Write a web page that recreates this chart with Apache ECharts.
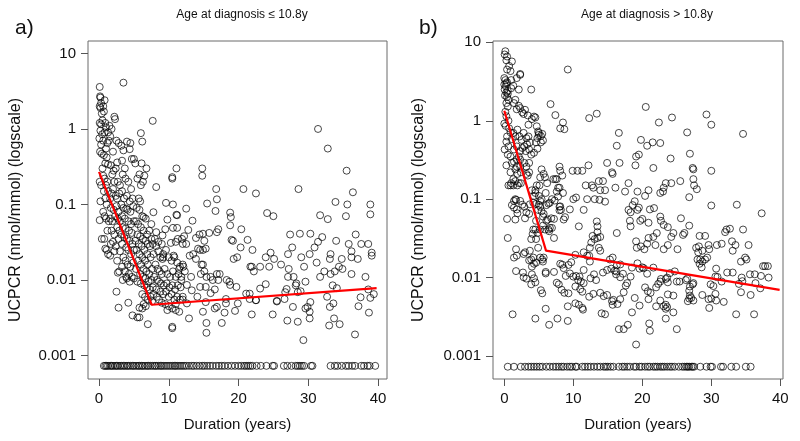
<!DOCTYPE html>
<html>
<head>
<meta charset="utf-8">
<script src="https://cdn.jsdelivr.net/npm/echarts@6/dist/echarts.min.js"></script>
<style>
html,body{margin:0;padding:0;background:#fff;}
#chart{width:800px;height:441px;}
</style>
</head>
<body>
<div id="chart"></div>
<script>
// ---------- DATA ----------
var panelLabels = ['a)', 'b)'];
var panelTitles = ['Age at diagnosis \u2264 10.8y', 'Age at diagnosis > 10.8y'];
var xTicks = [0, 10, 20, 30, 40];
var yTicks = [0.001, 0.01, 0.1, 1, 10];
var xTitle = 'Duration (years)';
var yTitle = 'UCPCR (nmol/mmol) (logscale)';
var zeroValue = 0.00073; // undetectable UCPCR plotted at the floor

// Panel a: measured UCPCR [duration, value]
var pointsA = [
[0.1,3.6],[0.15,2.7],[0.2,2.6],[0.1,2.0],[0.3,2.2],[0.2,1.9],[0.4,1.6],[0.1,1.2],[0.3,1.15],[0.2,0.95],[0.05,0.75],[0.3,0.62],[0.15,0.5],[0.4,0.47],[0.1,0.2],[0.3,0.18],[0.2,0.11],[0.1,0.062],[0.4,0.035],[0.5,1.3],[0.45,0.85],[0.5,0.3],
[0.6,2.0],[0.8,2.4],[0.7,1.7],[0.9,1.2],[1.0,1.05],[0.8,0.9],[0.6,0.7],[1.2,0.65],[1.0,0.55],[0.7,0.45],[1.1,0.42],[0.9,0.35],[1.3,0.34],[0.6,0.24],[0.8,0.22],[1.0,0.18],[1.2,0.2],[0.7,0.15],[0.9,0.12],[1.1,0.1],[1.3,0.15],[0.6,0.08],[0.8,0.07],[1.0,0.065],[1.4,0.06],[1.2,0.045],[0.9,0.026],[1.1,0.025],[1.3,0.022],[0.75,0.035],[1.5,1.1],[1.4,0.7],[1.3,0.9],
[1.6,0.8],[1.8,1.0],[2.2,1.45],[2.3,1.35],[2.0,0.5],[2.5,0.7],[2.8,0.65],[1.7,0.33],[2.1,0.28],[2.4,0.3],[2.6,0.36],[1.9,0.25],[2.2,0.2],[2.7,0.2],[3.0,0.18],[1.6,0.12],[1.8,0.14],[2.0,0.16],[2.4,0.13],[2.6,0.12],[2.9,0.14],[1.7,0.09],[2.1,0.085],[2.5,0.095],[2.8,0.08],[1.6,0.065],[1.9,0.06],[2.3,0.07],[2.7,0.065],[3.0,0.06],[1.8,0.045],[2.2,0.04],[2.6,0.05],[2.9,0.045],[1.7,0.03],[2.0,0.032],[2.4,0.028],[2.8,0.035],[1.6,0.021],[2.2,0.024],[2.6,0.018],[2.7,0.0125],[2.9,0.013],[2.5,0.007],[2.8,0.0043],[3.0,0.024],
[3.5,4.1],[3.2,0.6],[3.5,0.52],[3.3,0.38],[3.7,0.3],[4.0,0.68],[4.5,0.65],[4.4,0.54],[4.7,0.4],[5.0,0.4],[3.4,0.25],[3.8,0.22],[4.2,0.2],[4.6,0.16],[3.3,0.15],[3.6,0.12],[4.0,0.13],[4.4,0.11],[4.8,0.12],[3.2,0.1],[3.5,0.09],[3.9,0.088],[4.1,0.085],[4.5,0.08],[4.9,0.095],[3.3,0.07],[3.7,0.065],[4.2,0.06],[4.6,0.055],[5.0,0.06],[3.4,0.05],[3.8,0.048],[4.3,0.045],[4.7,0.042],[3.2,0.04],[3.6,0.037],[4.0,0.035],[4.4,0.033],[4.8,0.03],[3.3,0.03],[3.9,0.027],[4.2,0.025],[4.6,0.022],[5.0,0.025],[3.5,0.02],[3.8,0.018],[4.1,0.016],[4.5,0.015],[4.9,0.017],[3.3,0.015],[3.7,0.013],[4.3,0.012],[4.7,0.011],[3.4,0.01],[4.0,0.0105],[4.4,0.0095],[5.0,0.0105],[4.2,0.005],[4.8,0.0034],[5.5,0.0032],[3.9,0.011],
[5.2,0.35],[5.5,0.22],[5.8,0.25],[6.0,0.88],[6.2,0.68],[6.1,0.35],[6.3,0.2],[6.0,0.18],[5.7,0.12],[5.9,0.11],[6.5,0.24],[6.8,0.3],[5.4,0.09],[5.8,0.085],[6.2,0.07],[6.4,0.068],[6.7,0.065],[5.3,0.06],[5.6,0.055],[6.0,0.05],[6.4,0.045],[6.9,0.04],[7.2,0.045],[5.5,0.04],[5.9,0.038],[6.3,0.035],[6.7,0.033],[7.0,0.03],[7.5,0.035],[5.2,0.033],[5.7,0.03],[6.1,0.028],[6.5,0.025],[6.9,0.022],[7.3,0.028],[7.7,0.03],[5.4,0.025],[5.8,0.022],[6.2,0.02],[6.6,0.018],[7.0,0.016],[7.4,0.02],[7.8,0.022],[5.6,0.018],[6.0,0.016],[6.4,0.014],[6.8,0.013],[7.2,0.012],[7.6,0.014],[5.3,0.014],[5.9,0.012],[6.3,0.011],[6.7,0.0105],[7.1,0.0095],[7.5,0.01],[7.9,0.011],[5.5,0.0095],[6.0,0.009],[6.5,0.0085],[6.9,0.008],[7.3,0.0075],[7.7,0.008],[6.2,0.0065],[6.6,0.006],[7.0,0.0055],[7.4,0.006],[7.8,0.0065],[5.8,0.0043],[6.2,0.0042],[6.7,0.0045],[7.0,0.0026],[5.8,0.0032],[6.4,0.0048],[7.6,0.0052],
[7.7,1.28],[8.2,0.17],[7.8,0.079],[7.5,0.055],[8.2,0.043],[9.1,0.039],[9.5,0.047],[9.6,0.105],[10.6,0.10],[10.5,0.23],[10.5,0.22],[11.1,0.30],[9.8,0.063],[11.1,0.073],[11.2,0.072],[10.6,0.049],[11.2,0.049],[11.9,0.035],[12.2,0.038],[12.5,0.088],[12.8,0.046],[13.4,0.061],[13.9,0.036],[14.4,0.040],[14.9,0.041],[15.1,0.033],[15.8,0.042],[14.8,0.30],[14.8,0.24],[15.5,0.103],[16.8,0.16],[16.9,0.117],[16.7,0.082],[16.9,0.043],[17.1,0.047],[18.8,0.078],[18.9,0.068],[18.8,0.053],[19.0,0.034],[20.4,0.047],[20.7,0.16],[21.3,0.034],[22.0,0.025],[22.5,0.14],[24.1,0.077],[25.0,0.07],
[8.2,0.028],[8.5,0.024],[8.8,0.02],[9.2,0.022],[9.6,0.025],[10.0,0.02],[10.4,0.018],[10.8,0.02],[11.2,0.017],[11.6,0.015],[8.1,0.016],[8.4,0.014],[8.7,0.013],[9.0,0.012],[9.4,0.014],[9.8,0.012],[10.2,0.011],[10.6,0.013],[11.0,0.011],[11.4,0.012],[11.8,0.01],[8.3,0.01],[8.6,0.0095],[8.9,0.009],[9.3,0.0085],[9.7,0.009],[10.1,0.008],[10.5,0.0085],[10.9,0.0075],[11.3,0.0085],[11.7,0.008],[8.2,0.0075],[8.8,0.007],[9.2,0.0065],[9.6,0.007],[10.0,0.006],[10.4,0.0065],[10.8,0.0055],[11.2,0.006],[11.6,0.0055],[12.0,0.006],[8.6,0.0055],[9.0,0.005],[9.5,0.0048],[10.0,0.0045],[10.5,0.0042],[11.0,0.004],[11.5,0.0038],[8.3,0.006],[9.8,0.004],[10.5,0.0024],[10.5,0.0023],[12.0,0.0055],[11.0,0.0048],[9.1,0.019],[9.2,0.02],[10.7,0.021],[11.5,0.014],[12.1,0.015],[12.3,0.013],[8.0,0.035],[8.5,0.032],[9.0,0.03],[10.3,0.031],[11.0,0.032],[11.3,0.035],[12.0,0.03],[12.5,0.03],
[12.0,0.016],[11.8,0.011],[12.6,0.0086],[13.2,0.011],[13.3,0.0073],[14.1,0.006],[14.5,0.0081],[14.6,0.012],[14.7,0.016],[14.9,0.016],[15.1,0.013],[15.3,0.0081],[15.4,0.011],[16.0,0.011],[16.3,0.010],[16.9,0.012],[17.3,0.012],[16.6,0.0075],[16.0,0.0067],[15.3,0.0051],[14.9,0.0038],[15.4,0.0027],[15.4,0.0020],[12.9,0.0031],[12.6,0.0049],[16.6,0.0042],[17.6,0.0027],[18.0,0.0037],[18.2,0.0056],[18.2,0.0049],[18.3,0.010],[18.7,0.0095],[18.8,0.0086],[19.7,0.0081],[19.8,0.020],[19.3,0.019],[19.2,0.033],[20.3,0.027],[21.9,0.015],[19.9,0.0049],[19.5,0.0039],[21.9,0.0035],[22.5,0.0054],[16.9,0.0044],[17.1,0.010],[13.5,0.022],[14.2,0.026],[13.9,0.019],[14.5,0.025],[14.9,0.025],[15.3,0.026],[13.0,0.021],
[31.4,1.0],[32.8,0.55],[35.5,0.28],[28.6,0.16],[36.4,0.145],[33.9,0.108],[35.6,0.10],[38.9,0.10],[38.9,0.074],[31.7,0.072],[32.8,0.064],[35.4,0.07],
[27.4,0.040],[28.8,0.041],[30.3,0.041],[30.9,0.027],[31.4,0.032],[32.0,0.037],[33.2,0.022],[34.0,0.033],[35.8,0.030],[36.2,0.024],[36.8,0.040],[37.6,0.030],[38.6,0.030],[39.1,0.023],[39.1,0.021],[37.1,0.019],[36.2,0.020],[34.8,0.019],[33.1,0.019],[31.2,0.017],[31.7,0.011],[32.3,0.013],[33.2,0.012],[33.8,0.013],[34.4,0.015],[34.9,0.014],[36.2,0.012],[38.2,0.011],[27.1,0.022],[27.7,0.027],[29.0,0.020],[30.2,0.022],[29.4,0.015],[27.2,0.014],[27.1,0.011],[27.9,0.011],[28.3,0.009],[28.2,0.0085],[29.6,0.0095],[26.9,0.0076],[26.7,0.0069],[26.6,0.0056],[26.1,0.016],[25.1,0.019],[24.6,0.023],[23.9,0.020],[24.4,0.015],[23.1,0.015],[21.7,0.015],[22.2,0.013],[23.9,0.0088],[23.1,0.0077],[21.6,0.0066],[21.1,0.0066],[21.6,0.0056],[22.5,0.0054],[25.5,0.0053],[28.5,0.0069],[28.9,0.0071],[27.8,0.0044],[29.6,0.0042],[29.9,0.0044],[30.3,0.0051],[30.2,0.0038],[30.2,0.0031],[27.0,0.0029],[28.5,0.0028],[29.3,0.0016],[33.0,0.0025],[34.5,0.0026],[33.7,0.0031],[33.1,0.0044],[33.6,0.0049],[32.7,0.0060],[33.5,0.0085],[34.1,0.0078],[36.7,0.0019],[37.2,0.0045],[37.5,0.0059],[38.6,0.0075],[38.9,0.0058],[39.4,0.0065],[38.7,0.0037],[24.9,0.0035],[25.5,0.0052]
];
var zerosA = [0.7,0.9,1.1,1.3,1.6,1.8,2.0,2.3,2.5,2.7,3.0,3.2,3.5,3.7,4.0,4.2,4.5,4.8,5.0,5.3,5.6,5.8,6.1,6.3,6.6,6.9,7.1,7.4,7.7,8.0,8.2,8.5,8.8,9.0,9.3,9.6,9.9,10.2,10.5,10.8,11.0,11.3,11.6,11.9,12.2,12.5,12.9,13.3,13.6,14.0,14.4,14.8,15.1,15.5,15.9,16.3,16.8,17.2,17.6,18.0,18.5,19.0,19.5,20.0,20.4,20.8,21.1,21.4,21.7,22.0,22.6,23.2,24.0,24.9,25.1,26.5,27.0,27.6,28.2,28.5,28.8,29.1,29.4,30.4,30.6,33.2,33.8,34.2,34.8,35.4,35.8,36.3,36.7,37.6,38.0,38.5,38.8,39.6];
var fitA = [[0,0.27],[7.55,0.0047],[39.8,0.0078]];

// Panel b
var pointsB = [
[9.2,4.5],[6.7,1.63],[7.4,1.18],[8.5,0.95],[8.7,0.78],[8.1,0.8],[12.3,1.08],[13.4,1.23],[20.5,1.5],[24.3,1.1],[22.4,0.95],[29.3,1.2],[30.0,0.89],[34.6,0.68],[26.5,0.71],[16.6,0.7],[19.8,0.57],[20.7,0.48],[21.5,0.53],[22.6,0.52],[16.3,0.48],[26.9,0.38],[24.1,0.33],[19.5,0.37],[19.1,0.35],[19.0,0.27],[16.7,0.29],[14.9,0.29],[12.2,0.27],[9.9,0.23],[10.6,0.23],[11.3,0.23],[15.6,0.22],[15.7,0.21],[21.6,0.25],[27.3,0.25],[27.4,0.24],[30.0,0.23],[25.5,0.17],[27.4,0.18],[27.5,0.15],[27.9,0.134],[24.2,0.16],[23.4,0.16],[23.1,0.14],[22.6,0.12],[23.0,0.125],[26.8,0.106],[30.0,0.083],[33.7,0.085],[37.3,0.066],[21.1,0.074],[21.7,0.077],[20.4,0.11],[20.9,0.13],[19.3,0.125],[18.9,0.094],[18.6,0.084],[17.5,0.125],[18.0,0.16],[16.1,0.14],[13.9,0.13],[14.6,0.13],[14.3,0.17],[11.8,0.15],[12.0,0.10],[12.7,0.15],[12.9,0.14],[13.7,0.17],[14.6,0.093],[13.8,0.098],[13.1,0.1],[11.5,0.073],[10.8,0.045],[10.0,0.1],[10.4,0.105],[9.5,0.074],[8.8,0.059],[8.6,0.055],[8.5,0.12],[18.0,0.073],[18.3,0.068],[18.2,0.053],[18.3,0.045],[16.3,0.037],[19.3,0.073],[19.5,0.078],[19.7,0.053],[20.0,0.056],[20.9,0.05],[22.6,0.06],[22.7,0.053],[23.1,0.047],[23.7,0.044],[25.6,0.057],[26.8,0.046],[25.9,0.035],[26.1,0.037],[24.5,0.037],[24.2,0.033],[23.7,0.026],[22.1,0.037],[21.6,0.033],[20.9,0.032],[20.7,0.027],[19.1,0.029],[19.2,0.024],[19.8,0.025],[20.3,0.023],[21.9,0.026],[23.1,0.023],[25.1,0.023],[28.3,0.034],[29.1,0.034],[29.6,0.026],[28.2,0.025],[28.7,0.022],[29.7,0.023],[30.8,0.026],[31.5,0.027],[32.0,0.038],[32.2,0.041],[32.7,0.042],[33.0,0.029],[33.5,0.026],[33.1,0.022],[34.6,0.041],[35.4,0.026],[34.9,0.018],[35.1,0.017],[34.3,0.016],[35.6,0.011],[36.3,0.011],[37.2,0.0105],[37.5,0.014],[37.8,0.014],[38.2,0.014],[38.3,0.01],[37.1,0.0073],[36.4,0.0085],[34.4,0.01],[34.5,0.009],[34.0,0.0083],[34.3,0.0065],[35.7,0.006],[36.2,0.0034],[33.6,0.0034],[33.1,0.0116],[32.3,0.0116],[30.7,0.013],[30.6,0.0103],[30.9,0.0102],[31.5,0.0089],[29.9,0.0082],[30.3,0.0078],[29.6,0.0053],[30.0,0.0054],[30.6,0.0062],[30.7,0.0051],[29.7,0.0041],[31.8,0.0049],[28.7,0.006],[28.3,0.015],[28.4,0.017],[28.7,0.016],[29.1,0.017],[29.4,0.018],[28.0,0.017],[28.1,0.021],[27.8,0.024],[28.6,0.0135],[27.4,0.0085],[27.3,0.0082],[26.9,0.0077],[26.8,0.0068],[26.9,0.0059],[27.1,0.0055],[27.4,0.0051],[26.8,0.0054],[26.6,0.005],[26.5,0.0097],[26.3,0.0093],[25.4,0.0089],[25.0,0.0089],[24.7,0.012],[24.0,0.0114],[23.6,0.01],[23.4,0.0096],[23.7,0.0087],[22.7,0.0096],[22.6,0.0089],[22.3,0.0083],[22.0,0.0075],[24.5,0.0059],[23.7,0.0061],[22.6,0.0051],[23.1,0.0043],[22.0,0.0043],[23.4,0.0045],[23.6,0.0042],[23.4,0.004],[24.5,0.0036],[23.4,0.003],[25.0,0.0022],[21.0,0.0026],[21.1,0.0021],[19.1,0.0014],[16.6,0.0022],[17.3,0.0022],[17.9,0.0025],[18.5,0.0036],[19.6,0.0044],[18.9,0.0055],[20.8,0.0067],[21.2,0.0064],[20.9,0.0053],[20.4,0.0075],[20.7,0.0112],[21.6,0.0134],[20.0,0.0135],[20.2,0.0132],[19.3,0.0152],[19.6,0.013],[18.5,0.0134],[18.3,0.0103],[17.2,0.0112],[16.8,0.0101],[17.8,0.0085],[17.6,0.0079],[17.3,0.0065],[16.8,0.0053],[16.4,0.0046],[15.8,0.0052],[15.6,0.005],[15.7,0.0045],[14.6,0.0034],[14.1,0.0035],[14.9,0.006],[14.4,0.0058],[13.9,0.0064],[13.3,0.0093],[14.3,0.0116],[14.9,0.0125],[15.5,0.013],[16.0,0.0123],[16.3,0.0143],[16.8,0.0147],[15.3,0.017],[15.7,0.018],[16.2,0.012],[16.2,0.011],[12.0,0.019],[12.3,0.019],[11.5,0.021],[12.4,0.024],[12.6,0.028],[13.1,0.031],[13.5,0.032],[12.8,0.034],[13.7,0.024],[13.9,0.022],[13.5,0.038],[13.5,0.045],[13.9,0.033],[13.4,0.052],[12.4,0.016],[13.0,0.011],[12.5,0.0098],[11.5,0.0125],[11.5,0.0085],[11.1,0.0089],[10.9,0.0103],[10.4,0.0105],[10.0,0.0103],[10.3,0.0077],[10.7,0.0093],[11.0,0.0071],[11.3,0.0066],[12.3,0.0057],[12.9,0.0062],[11.3,0.0041],[11.4,0.0039],[10.8,0.0045],[10.3,0.0047],[9.2,0.0028],[7.7,0.003],[9.2,0.0043],[8.7,0.0064],[9.3,0.0063],[8.3,0.007],[7.9,0.0082],[7.6,0.0086],[8.9,0.0105],[9.5,0.0113],[8.6,0.0132],[8.4,0.0146],[8.1,0.015],[9.3,0.0145],[9.7,0.0157],[10.3,0.0195],[7.2,0.0118],[6.0,0.0118],[6.0,0.004],[6.5,0.0025],[4.5,0.003],[1.2,0.0034],[1.7,0.0121],[1.8,0.019],[1.7,0.023],[1.4,0.018],[2.8,0.0101],[3.2,0.0097],[2.7,0.0116],[3.9,0.0082],[4.0,0.011],[4.3,0.0098],[4.5,0.0087],[4.0,0.0138],[4.3,0.015],[4.6,0.0155],[3.6,0.0166],[3.9,0.017],[4.2,0.018],[5.2,0.018],[5.5,0.017],[5.7,0.018],[5.6,0.016],[5.5,0.0063],[5.3,0.0069],[6.0,0.0113],[3.0,0.021],[2.8,0.02],[3.7,0.022],[4.6,0.031],[4.9,0.024],[4.5,0.041],[3.9,0.031],[4.8,0.037],[5.2,0.041],[5.6,0.046],[5.9,0.041],[6.6,0.043],[6.9,0.043],[7.2,0.032],[6.4,0.041],[6.5,0.039],[6.3,0.055],[6.1,0.053],[6.8,0.057],[7.2,0.056],[5.7,0.065],[5.6,0.06],[5.4,0.07],[6.4,0.088],[6.1,0.084],[5.2,0.095],[5.4,0.1],[5.0,0.11],[6.6,0.09],[6.9,0.1],[7.6,0.125],[7.8,0.14],[8.0,0.14],[7.4,0.18],[7.6,0.18],[7.1,0.18],[8.0,0.26],[8.1,0.23],[8.4,0.2],[7.8,0.108],[8.0,0.08],[8.2,0.073],[8.0,0.072],[7.3,0.096],[8.1,0.081],[6.2,0.16],[5.9,0.19],[5.7,0.21],[5.4,0.24],[6.0,0.12],[5.2,0.19],[5.1,0.15],[4.7,0.15],[4.5,0.13],[4.0,0.13],[4.5,0.12],[4.3,0.11],[4.2,0.09],[4.6,0.087],[5.0,0.085],[5.2,0.08],[4.9,0.073],[3.7,0.086],[3.6,0.065],[3.2,0.068],[3.0,0.057],[4.6,0.053],[4.2,0.041],[4.1,0.036],[3.4,0.2],[3.6,0.22],[3.2,0.21],[3.2,0.26],[2.9,0.29],[3.6,0.29],[2.3,0.26],[1.8,0.26],[1.6,0.24],[1.9,0.21],[2.4,0.22],[1.3,0.18],[1.6,0.17],[1.0,0.16],[0.6,0.15],[0.9,0.15],[1.3,0.15],[1.9,0.15],[2.1,0.16],[2.4,0.16],[1.6,0.1],[1.7,0.098],[1.4,0.095],[2.3,0.095],[2.6,0.085],[2.9,0.08],[1.1,0.084],[1.4,0.078],[1.8,0.074],[1.9,0.066],[1.6,0.055],[0.4,0.056],[0.5,0.032],[0.3,0.27],[0.9,0.22],[1.1,0.29],[1.4,0.3],[2.1,0.35],[2.3,0.41],[2.6,0.45],[2.9,0.47],[3.3,0.5],[3.6,0.43],[3.9,0.37],[4.3,0.39],[4.8,0.44],[5.3,0.53],[5.6,0.56],[4.6,0.53],[4.8,0.6],[5.0,0.7],[4.7,0.85],[4.9,0.73],[5.0,0.66],[5.3,0.64],[5.5,0.68],[4.3,1.13],[4.0,1.05],[4.5,1.1],[3.4,1.17],[3.5,0.89],[2.6,1.28],[2.8,1.22],[3.0,1.38],[2.3,1.45],[2.1,1.55],[1.8,1.4],[1.6,1.85],[1.4,1.68],[2.1,2.5],[1.8,3.5],[2.3,3.85],[2.3,3.95],[3.9,2.5],[1.1,5.7],[0.3,5.9],[0.15,7.7],[0.05,7.0],[0.4,6.6],[0.7,5.0],[0.4,4.5],[0.9,4.3],[0.0,3.5],[0.15,3.3],[0.3,3.0],[0.0,2.9],[0.2,2.75],[0.4,3.1],[0.05,2.5],[0.3,2.3],[0.5,2.2],[0.1,2.1],[0.4,2.0],[0.6,1.85],[0.3,1.68],[0.5,1.52],[0.15,1.3],[0.3,1.14],[0.6,1.0],[0.0,0.92],[0.2,0.86],[0.7,0.8],[0.9,0.71],[0.4,0.63],[0.3,0.54],[0.6,0.47],[0.05,0.43],[0.5,0.37],[0.9,0.35],[1.1,0.58],[1.4,0.43],[1.8,0.47],[1.6,0.63],[1.3,0.7],[1.9,0.77],[2.2,0.63],[2.5,0.57],[2.8,0.7],[3.2,0.6],[3.5,0.63],[3.7,0.53],[3.1,0.41],[2.3,0.32],[1.8,0.32],[0.5,2.4],[1.0,2.6],[1.3,2.8],[1.0,3.3]
];
var zerosB = [0.5,1.4,2.4,3.0,3.5,3.9,4.3,4.7,5.1,5.5,6.1,6.6,7.1,7.5,7.9,8.3,8.6,9.1,9.5,9.8,10.3,10.5,11.3,11.7,12.1,12.5,13.0,13.5,13.9,14.4,14.7,15.0,15.4,15.8,16.6,17.1,17.4,17.8,18.2,18.8,19.1,19.6,19.9,20.4,20.8,21.1,21.6,21.9,22.2,22.6,22.9,23.2,23.6,24.0,24.3,24.7,25.3,25.8,26.1,26.4,26.6,26.8,27.1,27.3,27.5,28.4,29.3,29.9,30.1,31.4,31.7,32.9,33.6,35.0,35.7];
var fitB = [[0,1.34],[6.04,0.0221],[39.9,0.00697]];

// axis extents (match the R plotting region)
var xRange = [[-1.58, 41.29], [-1.64, 40.39]];
var yRange = [[0.000489, 14.6], [0.000509, 10.4]];

// ---------- CHART ----------
var chart = echarts.init(document.getElementById('chart'), null, {renderer: 'canvas'});
var FONT = 'Liberation Sans, Arial, sans-serif';
var gridPos = [
  {left: 88, top: 41, width: 299, height: 338},
  {left: 493, top: 41, width: 290, height: 338}
];
var yNameGap = [64, 66];
var titleX = [237, 642];
var labelX = [10, 414];

function zeroPts(list) { return list.map(function (x) { return [x, zeroValue]; }); }
function fmtY(v) {
  var map = {'0.001': '0.001', '0.01': '0.01', '0.1': '0.1', '1': '1', '10': '10'};
  var k = String(+v.toPrecision(3));
  return map[k] !== undefined ? map[k] : '';
}

var grids = [], xAxes = [], yAxes = [], series = [], titles = [];
var pts = [pointsA, pointsB], zeros = [zerosA, zerosB], fits = [fitA, fitB];
for (var i = 0; i < 2; i++) {
  grids.push(Object.assign({show: true, borderColor: '#6a6a6a', borderWidth: 1, backgroundColor: 'transparent'}, gridPos[i]));
  xAxes.push({
    type: 'value', gridIndex: i, min: xRange[i][0], max: xRange[i][1],
    name: xTitle, nameLocation: 'middle', nameGap: 38,
    nameTextStyle: {fontFamily: FONT, fontSize: 15, color: '#111'},
    axisLine: {show: false, onZero: false},
    axisTick: {show: true, length: 7, lineStyle: {color: '#555'}, customValues: xTicks},
    axisLabel: {fontFamily: FONT, fontSize: 15, color: '#111', margin: 12, customValues: xTicks},
    splitLine: {show: false}
  });
  yAxes.push({
    type: 'log', logBase: 10, gridIndex: i, min: yRange[i][0], max: yRange[i][1],
    name: yTitle, nameLocation: 'middle', nameGap: yNameGap[i],
    nameTextStyle: {fontFamily: FONT, fontSize: 16, color: '#111'},
    axisLine: {show: false, onZero: false},
    axisTick: {show: true, length: 7, lineStyle: {color: '#555'}, customValues: yTicks},
    axisLabel: {fontFamily: FONT, fontSize: 15, color: '#111', margin: 12, customValues: yTicks,
      formatter: function (v) { return fmtY(v); }},
    splitLine: {show: false}
  });
  var circleStyle = {color: 'rgba(0,0,0,0)', borderColor: '#000', borderWidth: 0.9};
  series.push({
    type: 'scatter', xAxisIndex: i, yAxisIndex: i, data: pts[i],
    symbol: 'circle', symbolSize: 7, itemStyle: circleStyle, silent: true, animation: false
  });
  series.push({
    type: 'scatter', xAxisIndex: i, yAxisIndex: i, data: zeroPts(zeros[i]),
    symbol: 'circle', symbolSize: 7, itemStyle: circleStyle, silent: true, animation: false
  });
  series.push({
    type: 'line', xAxisIndex: i, yAxisIndex: i, data: fits[i], symbol: 'none',
    lineStyle: {color: '#ff0000', width: 2.2}, silent: true, animation: false, z: 5
  });
  titles.push({text: panelTitles[i], left: titleX[i], top: 4, textAlign: 'center',
    textStyle: {fontFamily: FONT, fontSize: 12, fontWeight: 'normal', color: '#111'}});
  titles.push({text: panelLabels[i], left: labelX[i], top: 13,
    textStyle: {fontFamily: FONT, fontSize: 21, fontWeight: 'normal', color: '#111'}});
}

chart.setOption({
  backgroundColor: '#ffffff',
  animation: false,
  title: titles,
  grid: grids,
  xAxis: xAxes,
  yAxis: yAxes,
  series: series
});
</script>
</body>
</html>
